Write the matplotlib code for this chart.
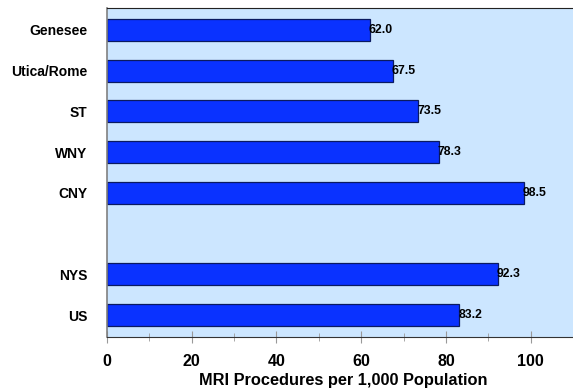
import matplotlib
matplotlib.use("Agg")
import matplotlib.pyplot as plt
from matplotlib.ticker import MultipleLocator

plt.rcParams['font.family'] = ['Liberation Sans', 'DejaVu Sans']
plt.rcParams['font.weight'] = 'bold'

# regions, with an empty slot between the regional and state/national bars
regions = ["Genesee", "Utica/Rome", "ST", "WNY", "CNY", "NYS", "US"]
positions = [0, 1, 2, 3, 4, 6, 7]
rates = [62.0, 67.5, 73.5, 78.3, 98.5, 92.3, 83.2]

fig = plt.figure(figsize=(5.73, 3.92), dpi=100)
ax = fig.add_axes([0.1867, 0.141, 0.8133, 0.838])
ax.set_facecolor("#CCE6FF")

ax.barh(positions, rates, height=0.54, color="#0A32FF", edgecolor="#0A1A60", linewidth=0.9, zorder=2)

for p, v in zip(positions, rates):
    ax.text(v - 0.3, p, "%.1f" % v, ha="left", va="center", fontsize=8.8, fontweight="bold", zorder=3)

ax.set_xlim(0, 110)
ax.set_ylim(7.53, -0.53)
ax.set_yticks(positions)
ax.set_yticklabels(regions, fontsize=10, fontweight="bold")
ax.tick_params(axis="y", length=0, pad=14)

ax.xaxis.set_major_locator(MultipleLocator(20))
ax.xaxis.set_minor_locator(MultipleLocator(10))
ax.set_xticks([0, 20, 40, 60, 80, 100])
ax.tick_params(axis="x", which="major", direction="inout", length=9, color="#999999", labelsize=11.5, pad=8)
ax.tick_params(axis="x", which="minor", direction="inout", length=6, color="#999999")
for lab in ax.get_xticklabels():
    lab.set_fontweight("bold")

ax.set_xlabel("MRI Procedures per 1,000 Population", fontsize=11.8, fontweight="bold")
ax.xaxis.set_label_coords(0.508, -0.11)
ax.xaxis.label.set_va("top")

ax.spines["left"].set_color("#808080")
ax.spines["left"].set_linewidth(1.2)
ax.spines["bottom"].set_color("#333333")
ax.spines["top"].set_color("#222222")
ax.spines["right"].set_visible(False)

fig.savefig("out.png", dpi=100)
